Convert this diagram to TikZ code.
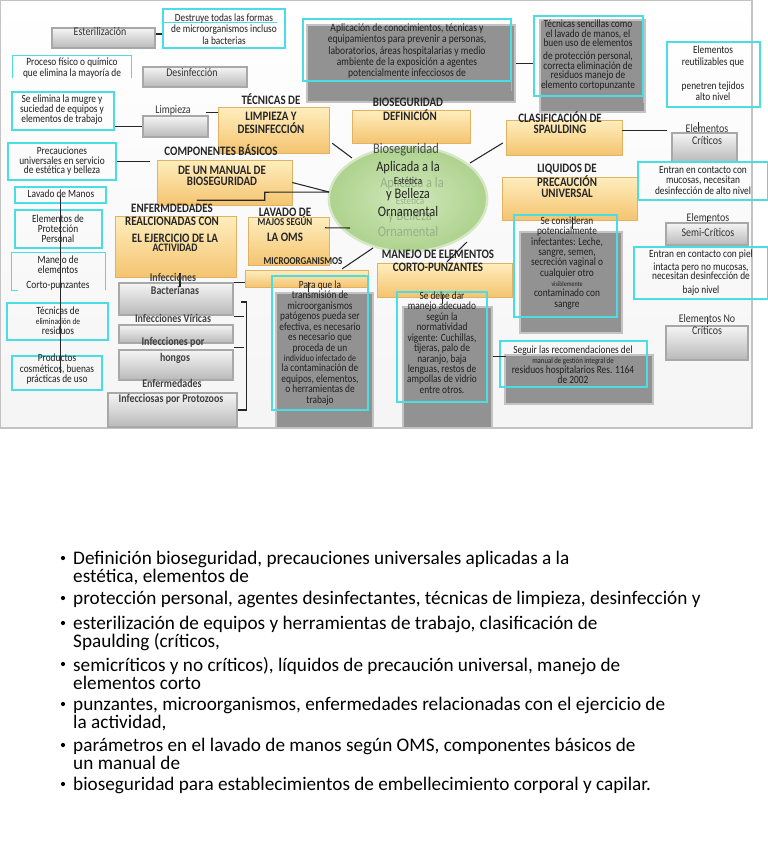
\documentclass[tikz,border=0pt]{standalone}
\usepackage{fontspec}
\setmainfont{Carlito}
\newfontfamily\mapfont[FakeStretch=0.85]{Carlito}
\usetikzlibrary{shapes.geometric, positioning, calc, fit, shadows}
\definecolor{cyanLine}{RGB}{72,222,228}
\definecolor{orangeTop}{RGB}{255,238,190}
\definecolor{orangeBottom}{RGB}{244,196,112}
\definecolor{orangeEdge}{RGB}{226,178,100}
\definecolor{shadeGray}{RGB}{146,146,146}
\definecolor{ovalInner}{RGB}{208,232,186}
\definecolor{ovalOuter}{RGB}{174,210,142}
\definecolor{ovalRim}{RGB}{212,232,198}
\definecolor{ghostText}{RGB}{150,176,136}

\begin{document}
\begin{tikzpicture}[
    x=0.03cm, y=-0.03cm,
    topic/.style={
        rectangle,
        inner sep=0pt,
        top color=orangeTop,
        bottom color=orangeBottom,
        draw=orangeEdge,
        line width=0.4pt,
        drop shadow={opacity=0.3, shadow xshift=1pt, shadow yshift=-1pt}
    },
    button/.style={
        rectangle,
        inner sep=0pt,
        top color=gray!8,
        bottom color=gray!55,
        draw=gray!68,
        line width=1.6pt,
        drop shadow={opacity=0.25, shadow xshift=1pt, shadow yshift=-1pt}
    },
    noteline/.style={
        draw=cyanLine,
        line width=0.9pt
    },
    note/.style={
        rectangle,
        inner sep=0pt,
        noteline
    },
    shade/.style={
        rectangle,
        inner sep=0pt,
        fill=shadeGray,
        draw=shadeGray!55!white,
        line width=2pt
    },
    txt/.style 2 args={
        inner sep=0pt,
        align=center,
        text=black!88,
        font=\mapfont\fontsize{#1}{#2}\selectfont
    },
    head/.style 2 args={
        inner sep=0pt,
        align=center,
        text=black!85,
        font=\mapfont\bfseries\fontsize{#1}{#2}\selectfont
    },
    btnlabel/.style={
        inner sep=0pt,
        text=black!80,
        font=\mapfont\fontsize{10}{11}\selectfont
    },
    btnbold/.style={
        inner sep=0pt,
        text=black!75,
        font=\mapfont\bfseries\fontsize{10}{11}\selectfont
    },
    ovaltext/.style={
        inner sep=0pt,
        text=black!85,
        font=\mapfont\fontsize{#1}{13}\selectfont
    },
    ghost/.style={
        inner sep=0pt,
        text=ghostText,
        font=\mapfont\fontsize{#1}{13}\selectfont
    },
    link/.style={
        draw=black!85,
        line width=0.9pt
    },
    item/.style={
        anchor=north west,
        inner sep=0pt,
        align=left,
        font=\fontsize{16.4}{15.3}\selectfont
    },
    bullet/.style={
        circle,
        fill=black,
        inner sep=0pt,
        minimum size=3.6pt
    }
]

% Canvas
\useasboundingbox (0,0) rectangle (768,866);
\shade[top color=white, bottom color=gray!8] (0,0) rectangle (752,428);

% Topic boxes
\node[topic, fit={(218,107) (329,153)}] (tLimp) {};
\node[topic, fit={(352,110) (470,143)}] (tDef) {};
\node[topic, fit={(506,120) (622,155)}] (tSpaul) {};
\node[topic, fit={(502,177) (637,220)}] (tLiq) {};
\node[topic, fit={(157,160) (292,205)}] (tManual) {};
\node[topic, fit={(115,216) (236,277)}] (tEnf) {};
\node[topic, fit={(248,217) (329,265)}] (tLav) {};
\node[topic, fit={(245,270) (368,287)}] (tMicro) {};
\node[topic, fit={(377,263) (512,297)}] (tCorto) {};

% Buttons
\node[button, fit={(52,28) (155,48)}] (bEster) {};
\node[button, fit={(143,67) (247,87)}] (bDesinf) {};
\node[button, fit={(143,116) (208,137)}] (bLimp) {};
\node[button, fit={(672,133) (737,162)}] (bCrit) {};
\node[button, fit={(666,223) (748,245)}] (bSemi) {};
\node[button, fit={(666,326) (748,360)}] (bNoCrit) {};
\node[button, fit={(119,283) (233,315)}] (bBact) {};
\node[button, fit={(119,325) (233,343)}] (bViric) {};
\node[button, fit={(119,350) (233,380)}] (bHong) {};
\node[button, fit={(108,393) (237,427)}] (bProto) {};

% Grey panels behind the notes
\node[shade, fit={(307,25) (515,102)}] (sAplic) {};
\node[shade, fit={(540,20) (645,112)}] (sSencillas) {};
\node[shade, fit={(520,232) (622,333)}] (sConsid) {};
\node[shade, fit={(505,355) (653,404)}] (sSeguir) {};
\node[shade, fit={(276,293) (373,428)}] (sPara) {};
\node[shade, fit={(403,307) (492,428)}] (sDebe) {};

% Centre
\node[ellipse, minimum width=4.75cm, minimum height=3.15cm, inner color=ovalInner, outer color=ovalOuter, draw=ovalRim, line width=2pt] (oval) at (408,199) {};

% Notes
\node[note, fit={(163,9) (285,48)}] (nDestruye) {};
\draw[noteline] ($(nDestruye.north west)+(0,14)$) -- ++(115,0);
\node[inner sep=0pt, fit={(13,56) (131,78)}] (nProceso) {};
\draw[noteline] (nProceso.south west) |- (nProceso.north east) -- (nProceso.south east);
\node[note, fit={(12,92) (114,130)}] (nMugre) {};
\node[note, fit={(303,19) (511,81)}] (nAplic) {};
\draw[noteline] (nAplic.south east) -- ++(0,9);
\node[note, fit={(534,16) (643,96)}] (nSencillas) {};
\draw[noteline] (nSencillas.south east) -- ++(0,6);
\node[note, fit={(667,42) (760,107)}] (nReutil) {};
\node[note, fit={(638,162) (768,200)}] (nAlto) {};
\node[note, fit={(634,247) (768,299)}] (nBajo) {};
\node[note, fit={(514,215) (617,317)}] (nConsid) {};
\node[note, fit={(500,341) (647,387)}] (nSeguir) {};
\node[note, fit={(8,143) (116,180)}] (nPrecau) {};
\node[note, fit={(15,187) (106,203)}] (nLavMan) {};
\node[note, fit={(15,210) (102,248)}] (nEpp) {};
\node[inner sep=0pt, fit={(12,253) (105,290)}] (nManejo) {};
\draw[noteline] ($(nManejo.south west)+(6,0)$) -- (nManejo.south west) |- (nManejo.north east) -- (nManejo.south east);
\node[note, fit={(7,303) (108,340)}] (nResid) {};
\node[note, fit={(12,356) (102,390)}] (nProduct) {};
\node[note, fit={(272,276) (368,410)}] (nPara) {};
\node[note, fit={(397,292) (487,402)}] (nDebe) {};

% Links
\draw[link] ($(bEster.east)+(0,-4)$) -- ($(bEster.east -| nDestruye.west)+(0,-4)$);
\draw[link] (nMugre.east |- bLimp.west) -- (bLimp.west);
\draw[link] ($(bLimp.north east)+(-3,-3)$) -- ($(bLimp.north east -| tLimp.west)+(0,-3)$);
\draw[link] (sAplic.east) -- (sAplic.east -| nSencillas.west);
\draw[link] ($(tSpaul.east)+(0,-7)$) -- ($(tSpaul.east -| bCrit.west)+(-4,-7)$);
\draw[link] (nPrecau.east) -- ($(nPrecau.east -| tManual.west)+(-7,0)$);
\draw[link] (bBact.north east) -- (bBact.north east -| tMicro.west);
\draw[link] ($(bBact.south east)+(0,1)$) -- ++(10,0);
\draw[link] ($(bHong.north east)+(0,-2)$) -- ++(10,0);
\draw[link] (bProto.east) -- ++(9,0) -- ++(0,-108) -- ++(-6,0);
\draw[link] ($(tEnf.south)+(4.5,-4)$) -- ++(0,14);
\draw[link] ($(sDebe.east)+(0,-11)$) -- ++(13,0);
\draw[link, line width=0.7pt] ($(nPara.north)+(-12,7)$) -- ++(0,10);
\draw[link, line width=0.7pt] ($(nDebe.north)+(0,4)$) -- ++(0,9);
\draw[link, line width=0.7pt] ($(nConsid.north)+(6.5,3)$) -- ++(0,12);
\draw[link, line width=0.7pt] ($(bCrit.north)+(-6.5,-10)$) -- ++(0,9);
\draw[link, line width=0.7pt] ($(bSemi.north)+(0,-6)$) -- (bSemi.north);
\draw[link, line width=0.7pt] ($(bNoCrit.north)+(0,-8)$) -- ++(0,7);

% Spokes to the centre
\draw[link] ($(tLimp.south east)+(3,-10)$) -- ($(oval.center)+(-56,-41)$);
\draw[link] ($(tSpaul.west)+(-3,5.5)$) -- ($(oval.center)+(62,-36)$);
\draw[link] (tManual.east) -- ($(oval.center)+(-79,-7)$);
\draw[link] ($(tManual.south west)+(40,-5)$) -- ++(68,0) -- ++(0,-8) -- ($(oval.center)+(-79,-7)$);
\draw[link] ($(tLav.north east)+(-4,11)$) -- ($(oval.center)+(-58,29)$);
\draw[link] ($(tMicro.north east)+(-26,-1)$) -- ($(oval.center)+(-35,49)$);
\draw[link] ($(tCorto.north)+(2.5,-1)$) -- ($(oval.center)+(59,43)$);

% Centre text
\node[ghost=12.5] (gAplic) at (412,184) {Aplicada a la};
\node[ghost=9] (gEstet) at (410,201) {Estética};
\node[ghost=12.5] (gBelleza) at (410,217) {y Belleza};
\node[ghost=12.5] (gOrnam) at (408,231) {Ornamental};
\node[ovaltext=12.5, text=black!70] (oBioseg) at (406,150) {Bioseguridad};
\node[ovaltext=12.5] (oAplic) at (408,168) {Aplicada a la};
\node[ovaltext=9] (oEstet) at (408,181) {Estética};
\node[ovaltext=12.5] (oBelleza) at (408,195) {y Belleza};
\node[ovaltext=12.5] (oOrnam) at (408,211) {Ornamental};

% Headings
\node[head={11}{11}] (hTecnicas) at (271,99) {TÉCNICAS DE};
\node[head={11}{11}] (hLimp) at (271,122.5) {LIMPIEZA Y\\DESINFECCIÓN};
\node[head={11}{11}] (hBioseg) at (408,102) {BIOSEGURIDAD};
\node[head={11}{11}] (hDef) at (410,115) {DEFINICIÓN};
\node[head={11}{11}] (hClasif) at (560,117) {CLASIFICACIÓN DE};
\node[head={11}{11}] (hSpaul) at (560,129) {SPAULDING};
\node[head={11}{9.4}] (hLiq) at (567,181) {LIQUIDOS DE\\PRECAUCIÓN\\UNIVERSAL};
\node[head={11}{11}] (hComp) at (221,150) {COMPONENTES BÁSICOS};
\node[head={11}{9.4}] (hManual) at (222,175.5) {DE UN MANUAL DE\\BIOSEGURIDAD};
\node[head={11}{11}] (hEnf) at (172,214.5) {ENFERMDEDADES\\REALCIONADAS CON};
\node[head={11}{11}] (hEjer) at (175,238) {EL EJERCICIO DE LA};
\node[head={9.8}{11}] (hAct) at (175,248) {ACTIVIDAD};
\node[head={11}{11}] (hLav) at (285,212) {LAVADO DE};
\node[head={9}{10}] (hSegun) at (285,221) {MAJOS SEGÚN};
\node[head={11}{11}] (hOms) at (285,237) {LA OMS};
\node[head={9}{10}] (hMicro) at (303,261) {MICROORGANISMOS};
\node[head={11}{11}] (hManejo) at (438,254) {MANEJO DE ELEMENTOS};
\node[head={11}{11}] (hCorto) at (438,267) {CORTO-PUNZANTES};

% Button labels
\node[btnlabel] (lEster) at (100,31) {Esterilización};
\node[btnlabel] (lDesinf) at (192,73) {Desinfección};
\node[btnlabel] (lLimp) at (173,110) {Limpieza};
\node[btnlabel] (lCrit1) at (707,128) {Elementos};
\node[btnlabel] (lCrit2) at (707,140) {Críticos};
\node[btnlabel] (lSemi1) at (708,217) {Elementos};
\node[btnlabel] (lSemi2) at (708,232) {Semi-Críticos};
\node[btnlabel] (lNo1) at (707,318) {Elementos No};
\node[btnlabel] (lNo2) at (707,330) {Críticos};
\node[btnbold] (lBact1) at (173,277) {Infecciones};
\node[btnbold] (lBact2) at (175,290) {Bacterianas};
\node[btnbold] (lViric) at (173,318) {Infecciones Víricas};
\node[btnbold] (lHong1) at (173,342) {Infecciones por};
\node[btnbold] (lHong2) at (175,358) {hongos};
\node[btnbold] (lProto1) at (172,383) {Enfermedades};
\node[btnbold] (lProto2) at (171,399) {Infecciosas por Protozoos};

% Note texts
\node[txt={9.4}{9.8}] (xDestruye) at (224,29) {Destruye todas las formas\\de microorganismos incluso\\la bacterias};
\node[txt={9.4}{9.8}] (xProceso) at (72,68) {Proceso físico o químico\\que elimina la mayoría de};
\node[txt={9.4}{8.5}] (xMugre) at (62,110) {Se elimina la mugre y\\suciedad de equipos y\\elementos de trabajo};
\node[txt={9.6}{9.8}] (xAplic) at (407,51) {Aplicación de conocimientos, técnicas y\\equipamientos para prevenir a personas,\\laboratorios, áreas hospitalarias y medio\\ambiente de la exposición a agentes\\potencialmente infecciosos de};
\node[txt={9.4}{8.3}] (xSencillas) at (588,55) {Técnicas sencillas como\\el lavado de manos, el\\buen uso de elementos\\[2.5pt]de protección personal,\\correcta eliminación de\\residuos manejo de\\elemento cortopunzante};
\node[txt={9.4}{10}] (xReutil) at (713,73.5) {Elementos\\reutilizables que\\[10pt]penetren tejidos\\alto nivel};
\node[txt={9.4}{9}] (xAlto) at (703,180.5) {Entran en contacto con\\mucosas, necesitan\\desinfección de alto nivel};
\node[txt={9.4}{8}] (xBajo) at (701,272.5) {Entran en contacto con piel\\[3pt]intacta pero no mucosas,\\[-1.5pt]necesitan desinfección de\\[4pt]bajo nivel};
\node[txt={9.4}{8.8}] (xConsid) at (567,263) {Se consideran\\potencialmente\\infectantes: Leche,\\sangre, semen,\\secreción vaginal o\\cualquier otro\\{\fontsize{6}{6}\selectfont visiblemente}\\contaminado con\\sangre};
\node[txt={9.4}{8.5}] (xSeguir) at (573,365) {Seguir las recomendaciones del\\{\fontsize{6.8}{7}\selectfont manual de gestión integral de}\\residuos hospitalarios Res. 1164\\de 2002};
\node[txt={9.4}{8.1}] (xPrecau) at (62,161.5) {Precauciones\\universales en servicio\\de estética y belleza};
\node[txt={9.4}{9}] (xLavMan) at (61,194) {Lavado de Manos};
\node[txt={9.4}{8.5}] (xEpp) at (58,229) {Elementos de\\Protección\\Personal};
\node[txt={9.4}{8.3}] (xManejo) at (58,273) {Manejo de\\elementos\\[5pt]Corto-punzantes};
\node[txt={9.4}{8.5}] (xResid) at (58,321) {Técnicas de\\{\fontsize{7.5}{8}\selectfont eliminación de}\\residuos};
\node[txt={9.4}{9}] (xProduct) at (57,369.5) {Productos\\cosméticos, buenas\\prácticas de uso};
\node[txt={9.4}{8.9}] (xPara) at (320,343) {Para que la\\transmisión de\\microorganismos\\patógenos pueda ser\\efectiva, es necesario\\es necesario que\\proceda de un\\{\fontsize{8}{8}\selectfont individuo infectado de}\\la contaminación de\\equipos, elementos,\\o herramientas de\\trabajo};
\node[txt={9.4}{8.95}] (xDebe) at (442,342.5) {Se debe dar\\manejo adecuado\\según la\\normatividad\\vigente: Cuchillas,\\tijeras, palo de\\naranjo, baja\\lenguas, restos de\\ampollas de vidrio\\entre otros.};

% Thread through the left notes
\draw[link] (nLavMan.center) -- (nLavMan.center |- nProduct.center);

% Topics list
\node[bullet] (d1) at (63,558) {};
\node[item] (i1) at (73,551) {Definición bioseguridad, precauciones universales aplicadas a la\\estética, elementos de};
\node[bullet] (d2) at (63,598) {};
\node[item] (i2) at (73,591) {protección personal, agentes desinfectantes, técnicas de limpieza, desinfección y};
\node[bullet] (d3) at (63,623) {};
\node[item] (i3) at (73,616) {esterilización de equipos y herramientas de trabajo, clasificación de\\Spaulding (críticos,};
\node[bullet] (d4) at (63,664) {};
\node[item] (i4) at (73,657) {semicríticos y no críticos), líquidos de precaución universal, manejo de\\elementos corto};
\node[bullet] (d5) at (63,704) {};
\node[item] (i5) at (73,697) {punzantes, microorganismos, enfermedades relacionadas con el ejercicio de\\la actividad,};
\node[bullet] (d6) at (63,745) {};
\node[item] (i6) at (73,738) {parámetros en el lavado de manos según OMS, componentes básicos de\\un manual de};
\node[bullet] (d7) at (63,784) {};
\node[item] (i7) at (73,777) {bioseguridad para establecimientos de embellecimiento corporal y capilar.};

\end{tikzpicture}
\end{document}
